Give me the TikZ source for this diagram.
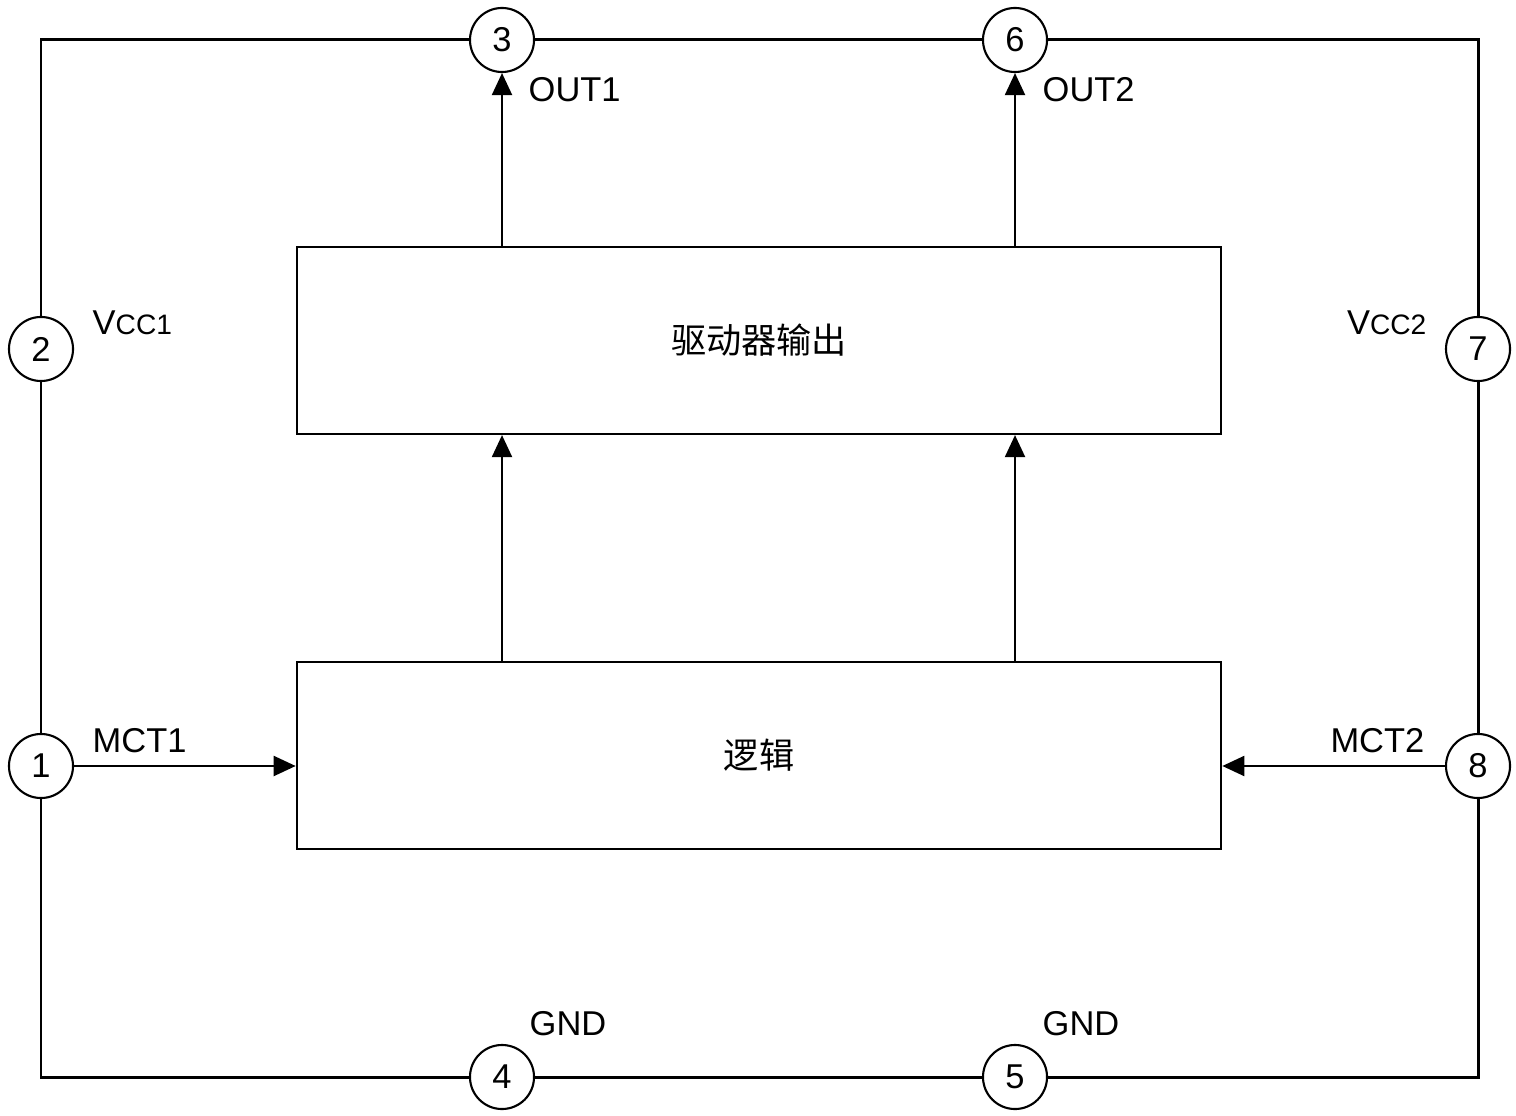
\documentclass[tikz,border=0pt]{standalone}
\usepackage{fontspec}
\setmainfont{Liberation Sans}
\newfontfamily\cjk{Noto Sans CJK SC}
\usetikzlibrary{arrows.meta}
\tikzset{
	pin/.style={circle,draw,line width=0.6pt,minimum size=0.64cm,inner sep=0pt,fill=white,font=\fontsize{9.8}{11}\selectfont},
	block/.style={draw,line width=0.6pt,minimum width=9.24cm,minimum height=1.87cm,font=\cjk\fontsize{10}{12}\selectfont},
	wire/.style={line width=0.85pt},
	sig/.style={line width=0.6pt,-{Triangle[length=0.22cm,width=0.2cm]}},
	lbl/.style={anchor=base west,inner sep=0pt,font=\fontsize{9.8}{11}\selectfont}
}
\newcommand*\smallidx[1]{{\fontsize{8}{9}\selectfont #1}}

\begin{document}
\begin{tikzpicture}[x=0.01cm,y=-0.01cm]
\useasboundingbox (0,0) rectangle (1516,1116);
% pins
\node[pin] (p1) at (41,766) {1};
\node[pin] (p2) at (41,349) {2};
\node[pin] (p3) at (502,40) {3};
\node[pin] (p4) at (502,1077) {4};
\node[pin] (p5) at (1015,1077) {5};
\node[pin] (p6) at (1015,40) {6};
\node[pin] (p7) at (1478,349) {7};
\node[pin] (p8) at (1478,766) {8};
\coordinate (tl) at (41,40);
\coordinate (tr) at (1478,40);
\coordinate (bl) at (41,1077);
\coordinate (br) at (1478,1077);
% blocks
\node[block] (drv) at (759,340.5) {驱动器输出};
\node[block] (logic) at (759,755.5) {逻辑};
% outer supply lines
\draw[wire] (p2.north) -- (tl) -- (p3.west);
\draw[wire] (p3.east) -- (p6.west);
\draw[wire] (p6.east) -- (tr) -- (p7.north);
\draw[wire] (p7.south) -- (p8.north);
\draw[wire] (p8.south) -- (br) -- (p5.east);
\draw[wire] (p5.west) -- (p4.east);
\draw[wire] (p4.west) -- (bl) -- (p1.south);
\draw[wire] (p1.north) -- (p2.south);
% signals
\draw[sig] (drv.north -| p3) -- (p3.south);
\draw[sig] (drv.north -| p6) -- (p6.south);
\draw[sig] (logic.north -| p3) -- (drv.south -| p3);
\draw[sig] (logic.north -| p6) -- (drv.south -| p6);
\draw[sig] (p1.east) -- (logic.west |- p1);
\draw[sig] (p8.west) -- (logic.east |- p8);
% labels
\node[lbl] (out1) at (528,102) {OUT1};
\node[lbl] (out2) at (1042,102) {OUT2};
\node[lbl] (vcc1) at (92,335) {V\smallidx{CC1}};
\node[lbl,anchor=base east] (vcc2) at (1427,335) {V\smallidx{CC2}};
\node[lbl] (mct1) at (92,752) {MCT1};
\node[lbl,anchor=base east] (mct2) at (1425,752) {MCT2};
\node[lbl] (gnd1) at (529,1035) {GND};
\node[lbl] (gnd2) at (1042,1035) {GND};
\end{tikzpicture}
\end{document}
